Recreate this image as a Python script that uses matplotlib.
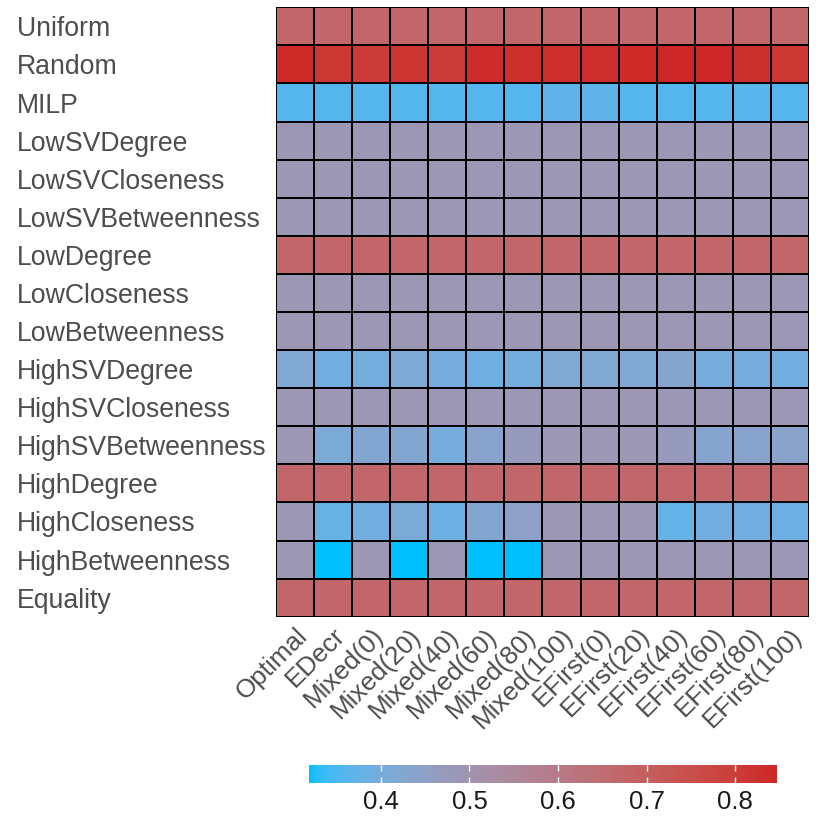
import numpy as np
import matplotlib
matplotlib.use("Agg")
import matplotlib.pyplot as plt
from matplotlib.colors import ListedColormap, Normalize, to_rgb

plt.rcParams['font.family'] = ['Liberation Sans', 'DejaVu Sans']

columns = ["Optimal", "EDecr", "Mixed(0)", "Mixed(20)", "Mixed(40)", "Mixed(60)",
           "Mixed(80)", "Mixed(100)", "EFirst(0)", "EFirst(20)", "EFirst(40)",
           "EFirst(60)", "EFirst(80)", "EFirst(100)"]

strategies = ["Uniform", "Random", "MILP", "LowSVDegree", "LowSVCloseness",
              "LowSVBetweenness", "LowDegree", "LowCloseness", "LowBetweenness",
              "HighSVDegree", "HighSVCloseness", "HighSVBetweenness", "HighDegree",
              "HighCloseness", "HighBetweenness", "Equality"]

uniform = [0.67, 0.67, 0.67, 0.67, 0.67, 0.67, 0.67, 0.67, 0.67, 0.67, 0.67, 0.67, 0.67, 0.67]
random_ = [0.84, 0.81, 0.80, 0.815, 0.80, 0.835, 0.83, 0.83, 0.83, 0.84, 0.845, 0.847, 0.825, 0.81]
milp = [0.36, 0.36, 0.36, 0.36, 0.36, 0.36, 0.36, 0.37, 0.37, 0.36, 0.36, 0.36, 0.365, 0.36]
low_sv_degree = [0.49, 0.49, 0.49, 0.49, 0.49, 0.49, 0.49, 0.49, 0.49, 0.49, 0.49, 0.49, 0.49, 0.49]
low_sv_closeness = [0.49, 0.49, 0.49, 0.49, 0.49, 0.49, 0.49, 0.49, 0.49, 0.49, 0.49, 0.49, 0.49, 0.49]
low_sv_betweenness = [0.49, 0.49, 0.49, 0.49, 0.49, 0.49, 0.49, 0.49, 0.49, 0.49, 0.49, 0.49, 0.49, 0.49]
low_degree = [0.67, 0.67, 0.67, 0.67, 0.67, 0.67, 0.67, 0.67, 0.67, 0.67, 0.67, 0.67, 0.67, 0.67]
low_closeness = [0.49, 0.49, 0.49, 0.49, 0.49, 0.49, 0.49, 0.49, 0.49, 0.49, 0.49, 0.49, 0.49, 0.49]
low_betweenness = [0.49, 0.49, 0.49, 0.49, 0.49, 0.49, 0.49, 0.49, 0.49, 0.49, 0.49, 0.49, 0.49, 0.49]
high_sv_degree = [0.42, 0.395, 0.40, 0.415, 0.40, 0.39, 0.40, 0.42, 0.42, 0.42, 0.43, 0.40, 0.40, 0.395]
high_sv_closeness = [0.49, 0.49, 0.49, 0.49, 0.49, 0.49, 0.49, 0.49, 0.49, 0.49, 0.49, 0.49, 0.49, 0.49]
high_sv_betweenness = [0.49, 0.41, 0.425, 0.425, 0.40, 0.435, 0.47, 0.49, 0.49, 0.49, 0.47, 0.43, 0.435, 0.44]
high_degree = [0.67, 0.67, 0.67, 0.67, 0.67, 0.67, 0.67, 0.67, 0.67, 0.67, 0.67, 0.67, 0.67, 0.67]
high_closeness = [0.49, 0.38, 0.395, 0.41, 0.385, 0.425, 0.45, 0.49, 0.49, 0.49, 0.375, 0.395, 0.395, 0.385]
high_betweenness = [0.49, 0.319, 0.49, 0.319, 0.49, 0.319, 0.319, 0.49, 0.49, 0.49, 0.49, 0.49, 0.49, 0.49]
equality = [0.67, 0.67, 0.67, 0.67, 0.67, 0.67, 0.67, 0.67, 0.67, 0.67, 0.67, 0.67, 0.67, 0.67]

values = np.array([uniform, random_, milp, low_sv_degree, low_sv_closeness,
                   low_sv_betweenness, low_degree, low_closeness, low_betweenness,
                   high_sv_degree, high_sv_closeness, high_sv_betweenness, high_degree,
                   high_closeness, high_betweenness, equality])


# ggplot-style gradient: interpolate deepskyblue -> firebrick3 in CIELAB
WHITE = np.array([0.95047, 1.0, 1.08883])
M = np.array([[0.4124, 0.3576, 0.1805],
              [0.2126, 0.7152, 0.0722],
              [0.0193, 0.1192, 0.9505]])


def rgb_to_lab(rgb):
    c = np.asarray(rgb, float)
    lin = np.where(c <= 0.04045, c / 12.92, ((c + 0.055) / 1.055) ** 2.4)
    xyz = M @ lin / WHITE
    f = np.where(xyz > 0.008856, np.cbrt(xyz), 7.787 * xyz + 16 / 116)
    return np.array([116 * f[1] - 16, 500 * (f[0] - f[1]), 200 * (f[1] - f[2])])


def lab_to_rgb(lab):
    fy = (lab[0] + 16) / 116
    f = np.array([fy + lab[1] / 500, fy, fy - lab[2] / 200])
    xyz = np.where(f > 0.206893, f ** 3, (f - 16 / 116) / 7.787) * WHITE
    lin = np.linalg.solve(M, xyz)
    lin = np.clip(lin, 0, 1)
    c = np.where(lin <= 0.0031308, 12.92 * lin, 1.055 * lin ** (1 / 2.4) - 0.055)
    return np.clip(c, 0, 1)


lo = rgb_to_lab(to_rgb("#00BFFF"))
hi = rgb_to_lab(to_rgb("#CD2626"))
cmap = ListedColormap([lab_to_rgb(lo + t * (hi - lo)) for t in np.linspace(0, 1, 256)])
norm = Normalize(vmin=values.min(), vmax=values.max())

fig = plt.figure(figsize=(8.3, 8.3), dpi=100)
ax = fig.add_axes([0.3325, 0.257, 0.6422, 0.7342])

mesh = ax.pcolormesh(values, cmap=cmap, norm=norm, edgecolors="black", linewidth=1.3)
ax.set_xlim(0, len(columns))
ax.set_ylim(len(strategies), 0)

ax.set_xticks(np.arange(len(columns)) + 0.5)
ax.set_xticklabels(columns, rotation=45, ha="right", va="top", rotation_mode="anchor")
ax.set_yticks(np.arange(len(strategies)) + 0.5)
ax.set_yticklabels(strategies)
for lab in ax.get_yticklabels():
    lab.set_ha("left")
ax.tick_params(axis="y", length=0, pad=186.5, labelsize=19.2, labelcolor="#4D4D4D")
ax.tick_params(axis="x", length=0, pad=5, labelsize=18.8, labelcolor="#4D4D4D")
for s in ax.spines.values():
    s.set_visible(False)

# horizontal colour bar at the bottom
cax = fig.add_axes([0.3723, 0.0566, 0.5639, 0.0217])
cbar = fig.colorbar(mesh, cax=cax, orientation="horizontal")
cbar.outline.set_visible(False)
cbar.set_ticks([0.4, 0.5, 0.6, 0.7, 0.8])
cbar.ax.tick_params(direction="in", color="white", length=4, width=1,
                    top=True, bottom=True, labelsize=18.5, labelcolor="#1A1A1A", pad=5)

fig.savefig("out.png", dpi=100)
